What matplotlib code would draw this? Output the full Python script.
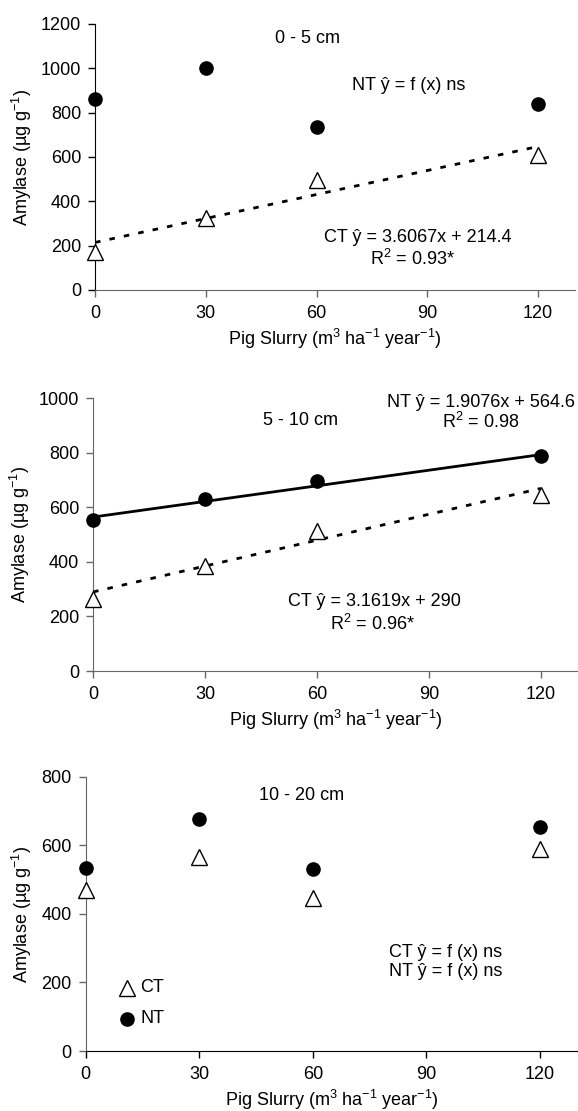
import matplotlib
matplotlib.use("Agg")
import matplotlib.pyplot as plt
import numpy as np

plt.rcParams["font.family"] = ["Liberation Sans", "DejaVu Sans"]
plt.rcParams["mathtext.fontset"] = "custom"
plt.rcParams["mathtext.rm"] = "Liberation Sans"
plt.rcParams["mathtext.it"] = "Liberation Sans:italic"
plt.rcParams["mathtext.default"] = "regular"

doses = [0, 30, 60, 120]

# 0 - 5 cm
nt_0_5 = [860, 1000, 737, 840]
ct_0_5 = [170, 325, 495, 610]
# 5 - 10 cm
nt_5_10 = [555, 630, 695, 790]
ct_5_10 = [265, 385, 515, 645]
# 10 - 20 cm
nt_10_20 = [535, 678, 530, 652]
ct_10_20 = [470, 565, 445, 590]

# fitted lines (slope, intercept)
ct_fit_0_5 = (3.6067, 214.4)
nt_fit_5_10 = (1.9076, 564.6)
ct_fit_5_10 = (3.1619, 290)

x_ticks = [0, 30, 60, 90, 120]
XLABEL = "Pig Slurry (m$^{3}$ ha$^{-1}$ year$^{-1}$)"
YLABEL = "Amylase (µg g$^{-1}$)"
FS = 13
GRAY = "#666666"


def setup_axes(ax, ymax, ystep, left_col, bottom_col):
    ax.set_xlim(0, 130)
    ax.set_ylim(0, ymax)
    ax.set_xticks(x_ticks)
    ax.set_yticks(np.arange(0, ymax + 1, ystep))
    ax.spines["top"].set_visible(False)
    ax.spines["right"].set_visible(False)
    ax.spines["left"].set_color(left_col)
    ax.spines["bottom"].set_color(bottom_col)
    ax.tick_params(direction="out", length=5, labelsize=FS, width=1)
    ax.tick_params(axis="x", pad=6, color=bottom_col)
    ax.tick_params(axis="y", pad=5, color=left_col)
    ax.set_xlabel(XLABEL, fontsize=FS, labelpad=3)
    ax.set_ylabel(YLABEL, fontsize=FS, labelpad=5)


def draw_points(ax, ct, nt):
    ax.plot(doses, ct, linestyle="none", marker="^", markersize=11,
            markerfacecolor="white", markeredgecolor="black",
            markeredgewidth=1, clip_on=False, zorder=4)
    ax.plot(doses, nt, linestyle="none", marker="o", markersize=9.5,
            color="black", clip_on=False, zorder=4)


def fit_line(ax, fit, style):
    xs = np.array([0, 120])
    ys = fit[0] * xs + fit[1]
    if style == "dashed":
        ax.plot(xs, ys, color="black", linewidth=2, linestyle=(0, (2, 3.3)),
                zorder=3)
    else:
        ax.plot(xs, ys, color="black", linewidth=2, linestyle="-", zorder=3)


fig = plt.figure(figsize=(5.78, 11.11), dpi=100)

# panel 1
ax1 = fig.add_axes([0.1644, 0.739, 0.8304, 0.2394])
setup_axes(ax1, 1200, 200, "black", GRAY)
fit_line(ax1, ct_fit_0_5, "dashed")
draw_points(ax1, ct_0_5, nt_0_5)
ax1.text(57.5, 1133, "0 - 5 cm", ha="center", va="center", fontsize=FS)
ax1.text(85, 921, "NT ŷ = f (x) ns", ha="center", va="center", fontsize=FS)
ax1.text(87.5, 238, "CT ŷ = 3.6067x + 214.4", ha="center", va="center", fontsize=FS)
ax1.text(86, 139, "R$^{2}$ = 0.93*", ha="center", va="center", fontsize=FS)

# panel 2
ax2 = fig.add_axes([0.161, 0.396, 0.839, 0.2455])
setup_axes(ax2, 1000, 200, GRAY, GRAY)
fit_line(ax2, nt_fit_5_10, "solid")
fit_line(ax2, ct_fit_5_10, "dashed")
draw_points(ax2, ct_5_10, nt_5_10)
ax2.text(55.5, 919, "5 - 10 cm", ha="center", va="center", fontsize=FS)
ax2.text(104, 985, "NT ŷ = 1.9076x + 564.6", ha="center", va="center", fontsize=FS)
ax2.text(104, 912, "R$^{2}$ = 0.98", ha="center", va="center", fontsize=FS)
ax2.text(75.5, 254, "CT ŷ = 3.1619x + 290", ha="center", va="center", fontsize=FS)
ax2.text(75, 173, "R$^{2}$ = 0.96*", ha="center", va="center", fontsize=FS)

# panel 3
ax3 = fig.add_axes([0.148, 0.054, 0.852, 0.2469])
setup_axes(ax3, 800, 200, GRAY, "black")
draw_points(ax3, ct_10_20, nt_10_20)
ax3.text(57, 744, "10 - 20 cm", ha="center", va="center", fontsize=FS)
ax3.text(80, 287, "CT ŷ = f (x) ns", ha="left", va="center", fontsize=FS)
ax3.text(80, 231, "NT ŷ = f (x) ns", ha="left", va="center", fontsize=FS)
ax3.plot([11], [185], linestyle="none", marker="^", markersize=11,
         markerfacecolor="white", markeredgecolor="black", markeredgewidth=1)
ax3.plot([11], [94], linestyle="none", marker="o", markersize=9.5, color="black")
ax3.text(14.5, 185, "CT", ha="left", va="center", fontsize=FS)
ax3.text(14.5, 94, "NT", ha="left", va="center", fontsize=FS)

fig.savefig("out.png", dpi=100)
